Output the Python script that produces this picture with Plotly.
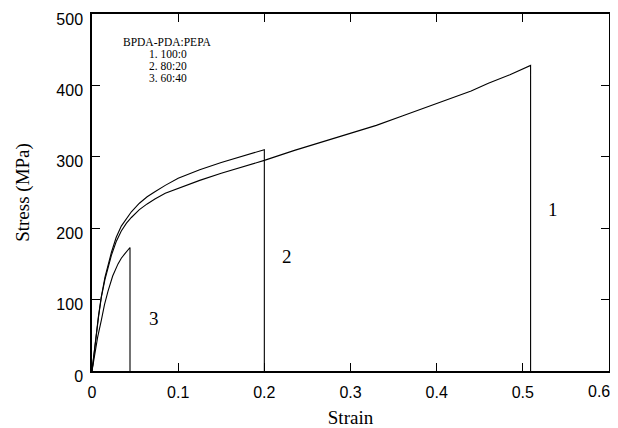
import plotly.graph_objects as go

# stress-strain curves (strain, MPa); last point is the break drop
strain_1 = [0, 0.003, 0.0075, 0.0108, 0.015, 0.0225, 0.028, 0.034, 0.04, 0.0457, 0.055, 0.064, 0.073,
            0.085, 0.1, 0.125, 0.15, 0.175, 0.2, 0.235, 0.27, 0.30, 0.33, 0.36, 0.39, 0.416, 0.44,
            0.46, 0.485, 0.509, 0.509]
stress_1 = [0, 32, 75, 103, 128, 162, 181, 196, 207, 215, 226, 234, 241,
            249, 256, 267, 277, 286, 295, 309, 322, 333, 344, 357, 370, 382, 392,
            403, 415, 428, 0]

strain_2 = [0, 0.003, 0.0075, 0.0108, 0.015, 0.0225, 0.028, 0.034, 0.04, 0.0457, 0.055, 0.064, 0.073,
            0.085, 0.1, 0.125, 0.15, 0.175, 0.2, 0.2]
stress_2 = [0, 32, 77, 104, 131, 166, 187, 203, 214, 223, 235, 244, 251,
            260, 270, 282, 292, 301, 310, 0]

strain_3 = [0, 0.003, 0.0065, 0.0108, 0.0145, 0.0186, 0.024, 0.0302, 0.034, 0.038, 0.0441, 0.0441]
stress_3 = [0, 23, 47, 71, 93, 112, 133, 150, 158, 164, 173, 0]

x_ticks = [0, 0.1, 0.2, 0.3, 0.4, 0.5, 0.6]
x_ticktext = ["0", "0.1", "0.2", "0.3", "0.4", "0.5", "0.6"]

curve_labels = ["1", "2", "3"]
label_x = [0.535, 0.226, 0.072]
label_y = [226, 160, 74]

legend_title = "BPDA-PDA:PEPA"
legend_items = ["1. 100:0", "2. 80:20", "3. 60:40"]

fig = go.Figure()
for xs, ys in [(strain_1, stress_1), (strain_2, stress_2), (strain_3, stress_3)]:
    fig.add_trace(go.Scatter(x=xs, y=ys, mode="lines",
                             line=dict(color="black", width=1.1), showlegend=False))

serif = "Liberation Serif, Times New Roman, serif"
sans = "Liberation Sans, Arial, sans-serif"
for t, x, y in zip(curve_labels, label_x, label_y):
    fig.add_annotation(x=x, y=y, text=t, showarrow=False,
                       font=dict(family=serif, size=19, color="black"))

fig.add_annotation(x=0.087, y=461, text=legend_title, showarrow=False,
                   font=dict(family=serif, size=11.5, color="black"))
for i, t in enumerate(legend_items):
    fig.add_annotation(x=0.064, y=444 - i * 17, text=t, showarrow=False, xanchor="left",
                       font=dict(family=serif, size=11.5, color="black"))

# last x label sits at the page edge; draw it as an annotation nudged left so it stays readable
fig.add_annotation(x=x_ticks[-1], y=0, yref="paper", text=x_ticktext[-1], showarrow=False,
                   yanchor="top", xshift=-10, yshift=-10, font=dict(family=sans, size=16, color="black"))

axis_style = dict(showline=True, linecolor="black", linewidth=1.5, mirror="ticks",
                  ticks="inside", ticklen=8, tickcolor="black", tickwidth=1.2,
                  showgrid=False, zeroline=False, ticklabeloverflow="allow",
                  tickfont=dict(family=sans, size=16, color="black"))

fig.update_xaxes(range=[0, 0.6], tickvals=x_ticks, ticktext=x_ticktext[:-1] + [""], ticklabelstandoff=6,
                 title=dict(text="Strain", font=dict(family=serif, size=19, color="black"), standoff=14),
                 **axis_style)
fig.update_yaxes(range=[0, 500], dtick=100, ticklabelstandoff=4, ticklabelshift=5,
                 title=dict(text="Stress (MPa)", font=dict(family=serif, size=19, color="black"), standoff=22),
                 **axis_style)

# page body has an 8px margin, so the figure is drawn 8px in from the top-left
fig.update_layout(width=610, height=420, margin=dict(l=84, r=9, t=6, b=57, autoexpand=False),
                  plot_bgcolor="white", paper_bgcolor="white")

fig.write_html("out.html")
